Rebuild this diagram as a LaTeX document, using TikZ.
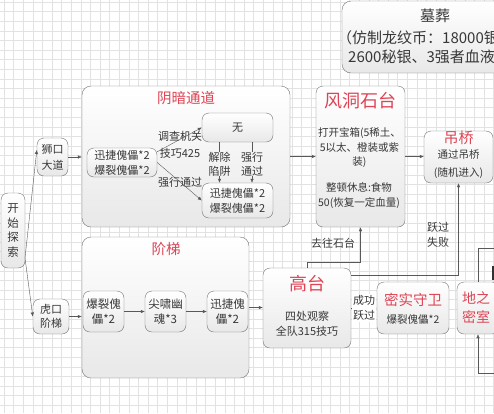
\documentclass[tikz,border=0pt]{standalone}
\usepackage{fontspec}
\setmainfont{Noto Sans CJK SC}
\usetikzlibrary{arrows.meta}
\definecolor{boxline}{RGB}{112,112,112}
\definecolor{titlered}{RGB}{222,68,84}
\definecolor{textgray}{RGB}{55,55,55}
\definecolor{gridgray}{RGB}{226,226,226}

\begin{document}
\begin{tikzpicture}[x=1pt,y=-1pt,
  box/.style={draw=boxline,rounded corners=7pt,top color=white,bottom color=black!9,inner sep=0pt},
  stage/.style={box,rounded corners=9pt},
  ttl/.style={text=titlered,inner sep=0pt,align=center},
  txt/.style={text=textgray,align=center,inner sep=0pt,font=\fontsize{11}{15}\selectfont},
  arr/.style={draw=black!65,-{Latex[length=4pt,width=3.5pt]}},
  lnk/.style={draw=black!65}]

\useasboundingbox (0,0) rectangle (494,413);
\clip (0,0) rectangle (494,413);

\foreach \gx in {4,13.6,...,494}
{
  \draw[gridgray] (\gx,0) -- (\gx,413);
}
\foreach \gy in {2,11.6,...,413}
{
  \draw[gridgray] (0,\gy) -- (494,\gy);
}

% tomb
\node[box,rounded corners=9pt,minimum width=190,minimum height=72] (tomb) at (437,37) {};
\node[txt,font=\fontsize{15}{16}\selectfont] (tombttl) at (435,16) {墓葬};
\node[txt,font=\fontsize{15}{19}\selectfont,align=left,anchor=west] (tombtxt) at (337,47.5)
  {（仿制龙纹币：18000银\\\hspace{11pt}2600秘银、3强者血液};

% start
\node[box,txt,font=\fontsize{11.5}{14.5}\selectfont,minimum width=24,minimum height=75] (start) at (13,230.5) {开\\始\\探\\索};
\coordinate (fork) at (25,258);

\node[box,txt,font=\fontsize{11}{16}\selectfont,minimum width=31,minimum height=38] (lion) at (52.5,157) {狮口\\大道};
\node[box,txt,font=\fontsize{11}{14}\selectfont,minimum width=36,minimum height=35] (tiger) at (51,316.5) {虎口\\阶梯};

\draw[arr] (fork) -- (lion.156);
\draw[arr] (fork) -- (tiger.west);

% dark passage
\node[stage,minimum width=208,minimum height=141] (dark) at (186,156.5) {};
\node[ttl,font=\fontsize{14.5}{16}\selectfont] (darkttl) at (186,98) {阴暗通道};

\node[box,txt,minimum width=70,minimum height=29] (enemyA) at (122,162.5) {迅捷傀儡*2\\爆裂傀儡*2};
\node[box,txt,minimum width=71,minimum height=29] (none) at (237.5,127.5) {无};
\node[box,txt,minimum width=71,minimum height=35] (enemyB) at (237.5,200.5) {迅捷傀儡*2\\爆裂傀儡*2};

\draw[arr] (enemyA.17) -- (none.west);
\draw[arr] (enemyA.east) -- (enemyB.west);

\node[txt,font=\fontsize{11}{17}\selectfont] (probe) at (180,145) {调查机关\\技巧425};
\node[txt] (force) at (180,182) {强行通过};
\node[txt,font=\fontsize{11}{14}\selectfont] (disarm) at (219.5,164) {解除\\陷阱};
\node[txt,font=\fontsize{11}{14}\selectfont] (push) at (252,164) {强行\\通过};

\draw[lnk] (disarm.north |- none.south) -- (disarm.north);
\draw[arr] (disarm.south) -- (disarm.south |- enemyB.north);
\draw[lnk] (push.north |- none.south) -- (push.north);
\draw[arr] (push.south) -- (push.south |- enemyB.north);

\draw[arr] (lion.east) -- (lion.east -| dark.west);

% stairs
\node[stage,minimum width=167,minimum height=141] (stairs) at (165.5,307.5) {};
\node[ttl,font=\fontsize{14.5}{16}\selectfont] (stairsttl) at (166,249) {阶梯};

\foreach \i/\x/\t in {1/103.5/{爆裂傀\\儡*2},2/165.5/{尖啸幽\\魂*3},3/227.5/{迅捷傀\\儡*2}}
{
  \node[box,txt,font=\fontsize{11.5}{15}\selectfont,minimum width=41,minimum height=41] (st\i) at (\x,311.5) {\t};
}
\draw[arr] (st1) -- (st2);
\draw[arr] (st2) -- (st3);

\draw[arr] (tiger.east) -- (tiger.east -| stairs.west);

% stone platform
\node[box,minimum width=89,minimum height=141] (stone) at (360.5,156.5) {};
\node[ttl,font=\fontsize{18}{20}\selectfont] (stonettl) at (360,101) {风洞石台};
\node[txt,font=\fontsize{10.5}{14.5}\selectfont] (chest) at (359.5,148) {打开宝箱(5稀土、\\5以太、橙装或紫\\装)};
\node[txt,font=\fontsize{10.5}{14.5}\selectfont] (rest) at (359,195.5) {整顿休息:食物\\50(恢复一定血量)};

\draw[arr] (dark.east) -- (stone.west);

% bridge
\node[box,minimum width=69,minimum height=52] (bridge) at (458.5,157) {};
\node[ttl,font=\fontsize{15}{16}\selectfont] (bridgettl) at (458.5,138) {吊桥};
\node[txt,font=\fontsize{10.5}{18}\selectfont] (bridgetxt) at (458.5,164) {通过吊桥\\(随机进入)};

\draw[arr] (stone.east) -- (stone.east -| bridge.west);

% high platform
\node[box,minimum width=88,minimum height=80] (high) at (307,308) {};
\node[ttl,font=\fontsize{18}{20}\selectfont] (highttl) at (307,284) {高台};
\node[txt,font=\fontsize{11}{14.5}\selectfont] (hightxt) at (307,324) {四处观察\\全队315技巧};

\draw[arr] (stairs.east) -- (stairs.east -| high.west);

\draw[arr] (high.north) -- ++(0,-6) -| (stone.south);
\node[txt] (togo) at (333,243) {去往石台};

\draw[arr] (high.east |- 0,275) -| (bridge.south);
\node[txt,font=\fontsize{11}{15}\selectfont] (fail) at (438,235) {跃过\\失败};

% guard and vault
\node[box,minimum width=72,minimum height=52] (guard) at (413,308) {};
\node[ttl,font=\fontsize{14.5}{16}\selectfont] (guardttl) at (413,300) {密实守卫};
\node[txt,font=\fontsize{10.5}{12}\selectfont] (guardtxt) at (413,319) {爆裂傀儡*2};

\draw[arr] (high.east) -- (guard.west);
\node[txt,fill=white,inner sep=1pt,font=\fontsize{11}{15}\selectfont] (win) at (364,308) {成功\\跃过};

\node[box,minimum width=42,minimum height=52] (vault) at (478,308) {};
\node[ttl,font=\fontsize{14}{19}\selectfont] (vaultttl) at (476,308) {地之\\密室};

\coordinate (offA) at (500,248);
\coordinate (offB) at (500,373);
\draw[lnk] (offA) -| (vault.north);
\draw[arr] (offB) -| (vault.south);
\draw[black!80,line width=2] (492.5,266) -- (492.5,280);

\end{tikzpicture}
\end{document}
